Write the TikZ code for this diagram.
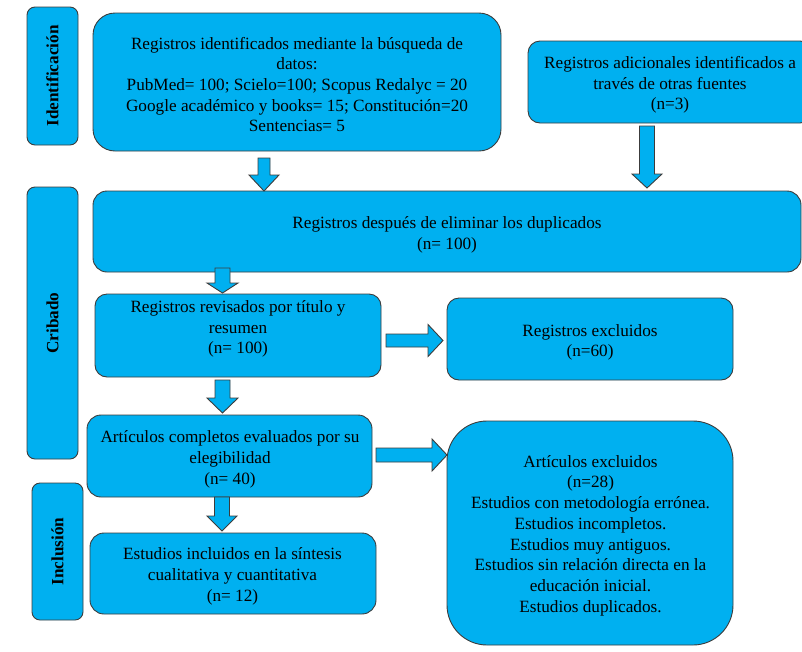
\documentclass[tikz,border=0pt]{standalone}
\usepackage{fontspec}
\setmainfont{Liberation Serif}
\definecolor{ppblue}{RGB}{0,176,240}
\definecolor{edgegray}{RGB}{60,60,60}
\tikzset{
  boxst/.style={draw=edgegray, fill=ppblue, line width=0.9pt, inner sep=0pt, rectangle},
  txt/.style={align=center, inner sep=0pt, text=black, font=\fontsize{17.2}{20.7}\selectfont},
  labst/.style={boxst, rotate=90, rounded corners=8pt, font=\bfseries\fontsize{17.2}{20.7}\selectfont},
  blk/.style={draw=edgegray, fill=ppblue, line width=0.9pt, line join=miter}
}
% cx, top, headstart, tip, shafthalf, headhalf
\newcommand\downblk[6]{\draw[blk] (#1-#5,#2) -- (#1+#5,#2) -- (#1+#5,#3) -- (#1+#6,#3) -- (#1,#4) -- (#1-#6,#3) -- (#1-#5,#3) -- cycle;}
% cy, left, headstart, tip, shafthalf, headhalf
\newcommand\rightblk[6]{\draw[blk] (#2,#1-#5) -- (#3,#1-#5) -- (#3,#1-#6) -- (#4,#1) -- (#3,#1+#6) -- (#3,#1+#5) -- (#2,#1+#5) -- cycle;}
\begin{document}
\begin{tikzpicture}[x=1pt,y=-1pt]
\useasboundingbox (0,0) rectangle (802,651);

% phase labels
\node[labst, minimum width=138, minimum height=51] (lid) at (52.5,76) {Identificación};
\node[labst, minimum width=272, minimum height=51] (lcr) at (52.5,323) {Cribado};
\node[labst, minimum width=137, minimum height=51] (lin) at (57.5,551.5) {Inclusión};

% boxes
\node[boxst, rounded corners=22pt, minimum width=408, minimum height=138] (b1) at (297,82) {};
\node[boxst, rounded corners=12pt, minimum width=284, minimum height=82] (b2) at (670,82) {};
\node[boxst, rounded corners=14pt, minimum width=708, minimum height=81] (b3) at (447,231.5) {};
\node[boxst, rounded corners=12pt, minimum width=286, minimum height=83] (b4) at (238,335.5) {};
\node[boxst, rounded corners=12pt, minimum width=286, minimum height=82] (b5) at (590,339) {};
\node[boxst, rounded corners=14pt, minimum width=285, minimum height=82] (b6) at (229.5,456) {};
\node[boxst, rounded corners=14pt, minimum width=286, minimum height=81] (b7) at (233,573.5) {};
\node[boxst, rounded corners=40pt, minimum width=286, minimum height=224] (b8) at (590,533) {};

% texts
\node[txt] (t1) at (297,84.5) {Registros identificados mediante la búsqueda de\\datos:\\PubMed= 100; Scielo=100; Scopus Redalyc = 20\\Google académico y books= 15; Constitución=20\\Sentencias= 5};
\node[txt] (t2) at (670,85) {Registros adicionales identificados a\\través de otras fuentes\\(n=3)};
\node[txt] (t3) at (447,234.5) {Registros después de eliminar los duplicados\\(n= 100)};
\node[txt] (t4) at (238,329) {Registros revisados por título y\\resumen\\(n= 100)};
\node[txt] (t5) at (590,342.5) {Registros excluidos\\(n=60)};
\node[txt] (t6) at (230,459.5) {Artículos completos evaluados por su\\elegibilidad\\(n= 40)};
\node[txt] (t7) at (232.5,576.5) {Estudios incluidos en la síntesis\\cualitativa y cuantitativa\\(n= 12)};
\node[txt] (t8) at (590.5,535.5) {Artículos excluidos\\(n=28)\\Estudios con metodología errónea.\\Estudios incompletos.\\Estudios muy antiguos.\\Estudios sin relación directa en la\\educación inicial.\\Estudios duplicados.};

% block arrows
\downblk{264}{158}{175}{191}{6}{15}
\downblk{647}{126}{174}{188}{7.5}{15}
\downblk{222.5}{268}{283}{293}{7.5}{15.5}
\downblk{222.5}{380}{398}{413}{7.5}{15.5}
\downblk{222}{497}{516}{531}{7.5}{15}
\rightblk{340.5}{386}{428}{443}{6.5}{16}
\rightblk{455}{376}{432}{447}{7}{16}
\end{tikzpicture}
\end{document}
